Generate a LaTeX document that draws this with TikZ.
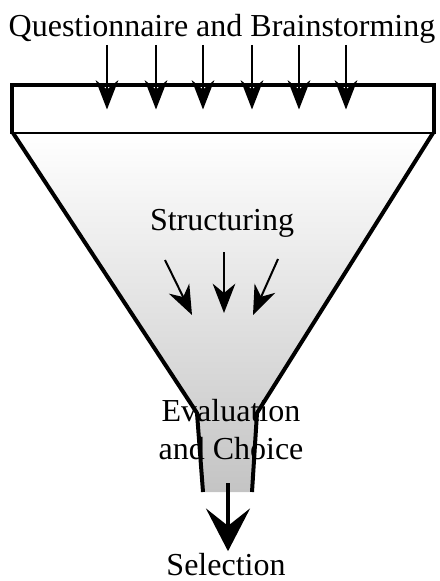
\documentclass[tikz,border=0pt]{standalone}
\usepackage{fontspec}
\setmainfont{Liberation Serif}
\usetikzlibrary{arrows.meta,calc}
\definecolor{cFunnelTop}{HTML}{FFFFFF}
\definecolor{cFunnelBottom}{HTML}{C4C4C4}

\begin{document}
\begin{tikzpicture}[x=0.75pt, y=-0.75pt,
    label/.style={font=\fontsize{24}{28.5}\selectfont, inner sep=0pt, align=center},
    feed/.style={-{Stealth[length=22pt, width=17pt, inset=7pt]}, line width=1.5pt},
    wall/.style={line width=3pt, line join=miter}]
\useasboundingbox (0,0) rectangle (439,581);

% Funnel body
\shade[top color=cFunnelTop, bottom color=cFunnelBottom]
    (13,133) -- (197,413) -- (203,492) -- (252,492) -- (257,413) -- (433,133) -- cycle;
\draw[wall] (13,133) -- (197,413) -- (203,492);
\draw[wall] (433,133) -- (257,413) -- (252,492);

% Rim
\node[draw, line width=1.5pt, inner sep=0pt, minimum width=315pt, minimum height=35.25pt] (rim) at (223,109.5) {};
\draw[wall] (rim.south west) |- (rim.north east) -- (rim.south east);

% Labels
\node[label, anchor=base] (input) at (222,37) {Questionnaire and Brainstorming};
\node[label, anchor=base] (struct) at (222,230) {Structuring};
\node[label] (choice) at (231,430) {Evaluation\\and Choice};
\node[label, anchor=base] (select) at (226,575) {Selection};

% Inputs into the rim
\foreach \x [count=\i] in {107,156,203,252,299,346} {
    \coordinate (in\i) at (\x,45);
    \draw[feed] (in\i) -- (in\i |- rim.center);
}

% Structuring arrows
\foreach \sx/\sy/\tx/\ty in {165/260/192/315, 224/252/224/313, 278/259/253/315} {
    \draw[feed] (\sx,\sy) -- (\tx,\ty);
}

% Output
\coordinate (out) at (228,483);
\draw[-{Stealth[length=32pt, width=33pt, inset=13pt]}, line width=3pt, shorten >=1pt] (out) -- (select.north -| out);

\end{tikzpicture}
\end{document}
